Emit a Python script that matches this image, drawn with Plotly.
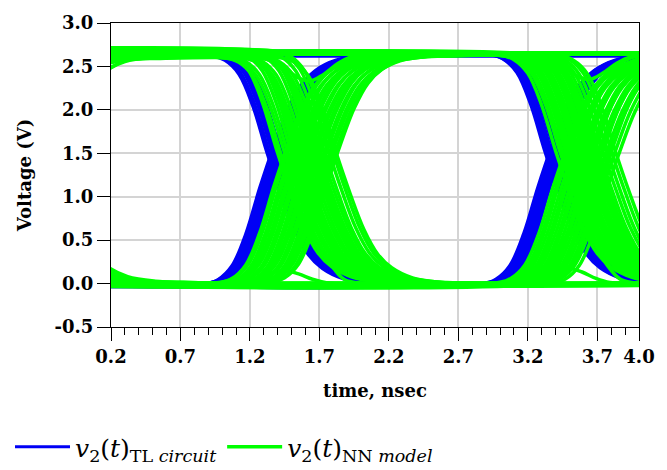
import plotly.graph_objects as go

# ---------------- data ----------------
# Shape of one logic transition: fraction of the swing reached vs. time (ns) from its mid-level crossing
EDGE_OFFSET_NS = [-0.45, -0.35, -0.25, -0.15, -0.05, 0.05, 0.15, 0.25, 0.35, 0.5, 0.7, 0.9]
EDGE_FRACTION = [0.0, 0.02, 0.08, 0.22, 0.42, 0.6, 0.76, 0.87, 0.93, 0.975, 0.995, 1.0]

# Shape of a partial (glitch) excursion, normalised to its peak
BUMP_OFFSET_NS = [-0.4, -0.3, -0.2, -0.1, 0.0, 0.1, 0.2, 0.3, 0.45]
BUMP_FRACTION = [0.0, 0.07, 0.37, 0.81, 1.0, 0.74, 0.33, 0.07, 0.0]

# bit before window, bit in first half, bit in second half, bit after window
BIT_PATTERNS = ["0000", "0001", "0010", "0011", "0100", "0101", "0110", "0111",
                "1000", "1001", "1010", "1011", "1100", "1101", "1110", "1111"]

# TL circuit (blue) crossing times, ns
BLUE_REPEATS = 2
BLUE_X0_RISE = [-0.66, -0.65, -0.64, -0.63, -0.62, -0.61, -0.60, -0.59]
BLUE_X0_FALL = [-0.62, -0.61, -0.60, -0.59, -0.58, -0.57, -0.55, -0.53]
BLUE_X1_RISE = [1.32, 1.33, 1.34, 1.355, 1.37, 1.38, 1.395, 1.41]
BLUE_X1_FALL = [1.37, 1.38, 1.39, 1.405, 1.42, 1.43, 1.45, 1.47]
BLUE_X2_RISE = [3.32, 3.33, 3.34, 3.355, 3.37, 3.38, 3.395, 3.41]
BLUE_X2_FALL = [3.37, 3.38, 3.39, 3.405, 3.42, 3.44, 3.46, 3.48]
BLUE_HIGH = [2.62, 2.63, 2.64, 2.63, 2.62, 2.64, 2.63, 2.62]
BLUE_LOW = [0.0, 0.0, -0.005, 0.0, -0.01, 0.0, -0.005, 0.0]

# NN model (green) crossing times, ns
GREEN_REPEATS = 5
GREEN_X0_RISE = [-0.58, -0.56, -0.54, -0.52, -0.50, -0.48, -0.46, -0.44, -0.42, -0.40,
                 -0.38, -0.36, -0.34, -0.32, -0.30, -0.28, -0.26, -0.23, -0.20, -0.17]
GREEN_X0_FALL = [-0.58, -0.55, -0.53, -0.51, -0.49, -0.47, -0.45, -0.43, -0.41, -0.39,
                 -0.37, -0.35, -0.33, -0.31, -0.29, -0.27, -0.25, -0.23, -0.21, -0.18]
GREEN_X1_RISE = [1.42, 1.44, 1.46, 1.48, 1.50, 1.52, 1.54, 1.56, 1.58, 1.60,
                 1.62, 1.64, 1.66, 1.68, 1.70, 1.72, 1.74, 1.76, 1.78, 1.80]
GREEN_X1_FALL = [1.44, 1.47, 1.50, 1.52, 1.54, 1.56, 1.58, 1.60, 1.62, 1.64,
                 1.66, 1.68, 1.70, 1.72, 1.74, 1.76, 1.78, 1.81, 1.84, 1.87]
GREEN_X2_RISE = [3.43, 3.45, 3.47, 3.49, 3.51, 3.53, 3.55, 3.57, 3.59, 3.61,
                 3.63, 3.65, 3.67, 3.69, 3.71, 3.73, 3.75, 3.77, 3.79, 3.82]
GREEN_X2_FALL = [3.45, 3.48, 3.50, 3.52, 3.54, 3.56, 3.58, 3.60, 3.62, 3.64,
                 3.66, 3.68, 3.70, 3.72, 3.74, 3.76, 3.79, 3.82, 3.85, 3.88]
GREEN_HIGH = [2.59, 2.61, 2.63, 2.65, 2.67, 2.60, 2.62, 2.64, 2.66, 2.68, 2.62, 2.65]
GREEN_LOW = [0.0, 0.01, 0.005, 0.015, 0.005, 0.0, 0.01, 0.02, 0.0, 0.005, 0.0, 0.01]

# NN model glitches: time of extreme (ns), base level (V), excursion (V)
GREEN_BUMP_TIME = [1.58, 1.45, 3.57, 3.49, 1.63, 3.64]
GREEN_BUMP_BASE = [0.0, 0.0, 0.0, 0.0, 2.63, 2.63]
GREEN_BUMP_HEIGHT = [0.68, 0.15, 0.65, 0.18, -0.30, -0.28]

X_TICKS = [0.2, 0.7, 1.2, 1.7, 2.2, 2.7, 3.2, 3.7, 4.0]
X_TICK_TEXT = ["0.2", "0.7", "1.2", "1.7", "2.2", "2.7", "3.2", "3.7", "4.0"]
Y_TICKS = [-0.5, 0.0, 0.5, 1.0, 1.5, 2.0, 2.5, 3.0]
Y_TICK_TEXT = ["-0.5", "0.0", "0.5", "1.0", "1.5", "2.0", "2.5", "3.0"]

BLUE = "#0000f5"
GREEN = "#00ff00"
LABEL_BLUE = "<i>v</i><sub>2</sub>(<i>t</i>)<sub>TL <i>circuit</i></sub>"
LABEL_GREEN = "<i>v</i><sub>2</sub>(<i>t</i>)<sub>NN <i>model</i></sub>"


def build_waveforms(repeats, pools, highs, lows):
    counters = {key: 0 for key in pools}
    waves = []
    n = 0
    for _ in range(repeats):
        for bits in BIT_PATTERNS:
            hi = highs[n % len(highs)]
            lo = lows[n % len(lows)]
            levels = [hi if b == "1" else lo for b in bits]
            xs, ys = [-1.2], [levels[0]]
            for k in range(3):
                if bits[k] != bits[k + 1]:
                    key = (k, "rise" if bits[k + 1] == "1" else "fall")
                    t = pools[key][counters[key]]
                    counters[key] += 1
                    a, b = levels[k], levels[k + 1]
                    for off, fr in zip(EDGE_OFFSET_NS, EDGE_FRACTION):
                        xs.append(t + off)
                        ys.append(a + (b - a) * fr)
            xs.append(5.2)
            ys.append(levels[3])
            waves.append((xs, ys))
            n += 1
    return waves


blue_waves = build_waveforms(
    BLUE_REPEATS,
    {(0, "rise"): BLUE_X0_RISE, (0, "fall"): BLUE_X0_FALL,
     (1, "rise"): BLUE_X1_RISE, (1, "fall"): BLUE_X1_FALL,
     (2, "rise"): BLUE_X2_RISE, (2, "fall"): BLUE_X2_FALL},
    BLUE_HIGH, BLUE_LOW)

green_waves = build_waveforms(
    GREEN_REPEATS,
    {(0, "rise"): GREEN_X0_RISE, (0, "fall"): GREEN_X0_FALL,
     (1, "rise"): GREEN_X1_RISE, (1, "fall"): GREEN_X1_FALL,
     (2, "rise"): GREEN_X2_RISE, (2, "fall"): GREEN_X2_FALL},
    GREEN_HIGH, GREEN_LOW)

for tb, base, h in zip(GREEN_BUMP_TIME, GREEN_BUMP_BASE, GREEN_BUMP_HEIGHT):
    xs = [-1.2] + [tb + o for o in BUMP_OFFSET_NS] + [5.2]
    ys = [base] + [base + h * f for f in BUMP_FRACTION] + [base]
    green_waves.append((xs, ys))

fig = go.Figure()
for i, (xs, ys) in enumerate(blue_waves):
    fig.add_trace(go.Scatter(
        x=xs, y=ys, mode="lines", line=dict(color=BLUE, width=3, shape="spline"),
        name=LABEL_BLUE, legendgroup="tl", showlegend=(i == 0), hoverinfo="skip"))
for i, (xs, ys) in enumerate(green_waves):
    fig.add_trace(go.Scatter(
        x=xs, y=ys, mode="lines", line=dict(color=GREEN, width=3.5, shape="spline"),
        name=LABEL_GREEN, legendgroup="nn", showlegend=(i == 0), hoverinfo="skip"))

tick_font = dict(family="DejaVu Serif", size=18, color="black", weight="bold")
title_font = dict(family="DejaVu Serif", size=18, color="black", weight="bold")

fig.update_layout(
    width=667, height=470,
    margin=dict(l=111, r=16, t=19, b=143),
    paper_bgcolor="white", plot_bgcolor="white",
    showlegend=True,
    legend=dict(orientation="h", xref="container", yref="container",
                x=0.015, xanchor="left", y=0.0, yanchor="bottom",
                font=dict(family="DejaVu Serif", size=25, color="black"),
                itemwidth=55, tracegroupgap=0, bgcolor="rgba(0,0,0,0)"),
    xaxis=dict(range=[0.2, 4.0], tickmode="array", tickvals=X_TICKS, ticktext=X_TICK_TEXT,
               ticks="outside", ticklen=13, tickwidth=1, tickcolor="black",
               showline=True, linecolor="black", linewidth=1, mirror=True,
               showgrid=True, gridcolor="#d4d4d4", gridwidth=2, zeroline=False,
               tickfont=tick_font,
               minor=dict(tickmode="linear", tick0=0.2, dtick=0.1, ticks="outside",
                          ticklen=7, tickcolor="black", showgrid=False),
               title=dict(text="time, nsec", font=title_font, standoff=18)),
    yaxis=dict(range=[-0.5, 3.0], tickmode="array", tickvals=Y_TICKS, ticktext=Y_TICK_TEXT,
               ticks="outside", ticklen=13, tickwidth=1, tickcolor="black",
               showline=True, linecolor="black", linewidth=1, mirror=True,
               showgrid=True, gridcolor="#d4d4d4", gridwidth=2, zeroline=False,
               tickfont=tick_font,
               title=dict(text="Voltage (V)", font=title_font, standoff=18)),
)

fig.write_html("out.html")
